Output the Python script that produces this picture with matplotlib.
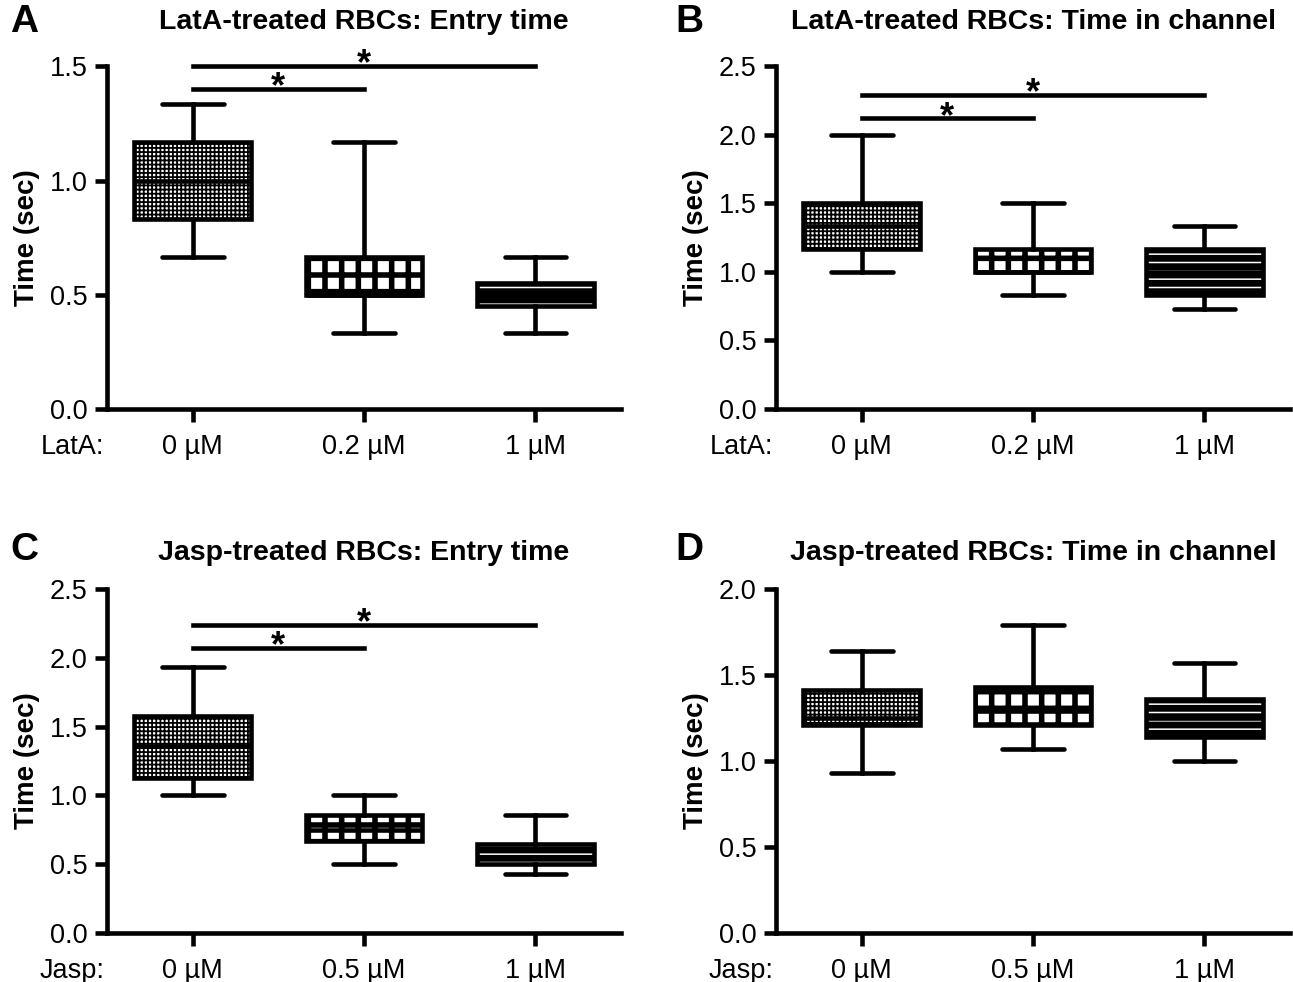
import numpy as np
import matplotlib.pyplot as plt

plt.rcParams['font.family'] = ['Liberation Sans', 'DejaVu Sans']
plt.rcParams['hatch.linewidth'] = 1.0

# group labels
lata_labels = ['0 µM', '0.2 µM', '1 µM']
jasp_labels = ['0 µM', '0.5 µM', '1 µM']

# A: LatA entry time (sec)
a_whislo = [0.667, 0.333, 0.333]
a_q1 = [0.833, 0.5, 0.45]
a_med = [1.0, 0.5, 0.5]
a_q3 = [1.167, 0.667, 0.55]
a_whishi = [1.333, 1.167, 0.667]

# B: LatA time in channel
b_whislo = [1.0, 0.833, 0.733]
b_q1 = [1.167, 1.0, 0.833]
b_med = [1.333, 1.0, 1.0]
b_q3 = [1.5, 1.167, 1.167]
b_whishi = [2.0, 1.5, 1.333]

# C: Jasp entry time
c_whislo = [1.0, 0.5, 0.429]
c_q1 = [1.13, 0.67, 0.5]
c_med = [1.36, 0.75, 0.6]
c_q3 = [1.58, 0.86, 0.65]
c_whishi = [1.93, 1.0, 0.857]

# D: Jasp time in channel
d_whislo = [0.93, 1.07, 1.0]
d_q1 = [1.21, 1.21, 1.14]
d_med = [1.25, 1.29, 1.25]
d_q3 = [1.41, 1.43, 1.36]
d_whishi = [1.64, 1.79, 1.57]

# significance bars: (from, to, height)
a_sig = [(0, 1, 1.4), (0, 2, 1.5)]
b_sig = [(0, 1, 2.12), (0, 2, 2.29)]
c_sig = [(0, 1, 2.07), (0, 2, 2.24)]
d_sig = []

# fill style per group: hatch, face, hatch colour, hatch linewidth
styles = [('++++', 'white', 'black', 1.3),
          ('+', 'white', 'black', 4.0),
          ('--', 'black', 'white', 1.1)]

LW = 3.3


def box_panel(ax, whislo, q1, med, q3, whishi, labels, drug, title, ymax, sig, tpad=27):
    x = np.arange(len(labels))
    for i in range(len(labels)):
        hatch, face, hcol, hlw = styles[i]
        bars = ax.bar(x[i], q3[i] - q1[i], bottom=q1[i], width=0.68, color=face,
                      edgecolor=hcol, linewidth=0, hatch=hatch, zorder=2)
        if hasattr(bars[0], 'set_hatch_linewidth'):
            bars[0].set_hatch_linewidth(hlw)
    stats = [dict(med=med[i], q1=q1[i], q3=q3[i], whislo=whislo[i], whishi=whishi[i])
             for i in range(len(labels))]
    ax.bxp(stats, positions=x, widths=0.68, capwidths=0.36, showfliers=False,
           patch_artist=True, manage_ticks=False,
           boxprops=dict(facecolor='none', edgecolor='black', linewidth=LW),
           whiskerprops=dict(color='black', linewidth=LW),
           capprops=dict(color='black', linewidth=LW, solid_capstyle='round'),
           medianprops=dict(color='black', linewidth=LW),
           zorder=3)
    for x0, x1, h in sig:
        ax.plot([x0, x1], [h, h], color='black', lw=LW, clip_on=False, zorder=4)
        ax.annotate('*', xy=((x0 + x1) / 2, h), xytext=(0, -6), textcoords='offset points',
                    ha='center', va='baseline', fontsize=26, fontweight='bold',
                    annotation_clip=False)

    ax.set_xlim(-0.5, 2.5)
    ax.set_ylim(0, ymax)
    ax.set_yticks(np.arange(0, ymax + 0.01, 0.5))
    ax.yaxis.set_major_formatter(plt.FormatStrFormatter('%.1f'))
    ax.set_xticks(x)
    ax.set_xticklabels(labels)
    for s in ['top', 'right']:
        ax.spines[s].set_visible(False)
    for s in ['left', 'bottom']:
        ax.spines[s].set_linewidth(LW)
    ax.tick_params(direction='out', length=9, width=LW, labelsize=19.5, pad=5)
    ax.tick_params(axis='x', pad=9)
    ax.set_ylabel('Time (sec)', fontsize=20, fontweight='bold')
    ax.yaxis.set_label_coords(-0.13, 0.5)
    ax.set_title(title, fontsize=20.5, fontweight='bold', pad=tpad)
    ax.annotate(drug, xy=(-0.5, 0), xycoords=('data', 'axes fraction'),
                xytext=(-2, -18), textcoords='offset points',
                ha='right', va='top', fontsize=19.5, annotation_clip=False)


fig = plt.figure(figsize=(12.93, 9.82), dpi=100)
axA = fig.add_axes([0.0828, 0.5835, 0.3975, 0.349])
axB = fig.add_axes([0.6002, 0.5835, 0.3975, 0.349])
axC = fig.add_axes([0.0828, 0.0499, 0.3975, 0.3503])
axD = fig.add_axes([0.6002, 0.0499, 0.3975, 0.3503])

box_panel(axA, a_whislo, a_q1, a_med, a_q3, a_whishi, lata_labels, 'LatA:',
          'LatA-treated RBCs: Entry time', 1.5, a_sig)
box_panel(axB, b_whislo, b_q1, b_med, b_q3, b_whishi, lata_labels, 'LatA:',
          'LatA-treated RBCs: Time in channel', 2.5, b_sig)
box_panel(axC, c_whislo, c_q1, c_med, c_q3, c_whishi, jasp_labels, 'Jasp:',
          'Jasp-treated RBCs: Entry time', 2.5, c_sig, tpad=21)
box_panel(axD, d_whislo, d_q1, d_med, d_q3, d_whishi, jasp_labels, 'Jasp:',
          'Jasp-treated RBCs: Time in channel', 2.0, d_sig, tpad=21)

for letter, fx, fy in [('A', 0.008, 0.978), ('B', 0.522, 0.978),
                       ('C', 0.008, 0.44), ('D', 0.522, 0.44)]:
    fig.text(fx, fy, letter, fontsize=28, fontweight='bold', va='center', ha='left')

fig.savefig('out.png', dpi=100)
